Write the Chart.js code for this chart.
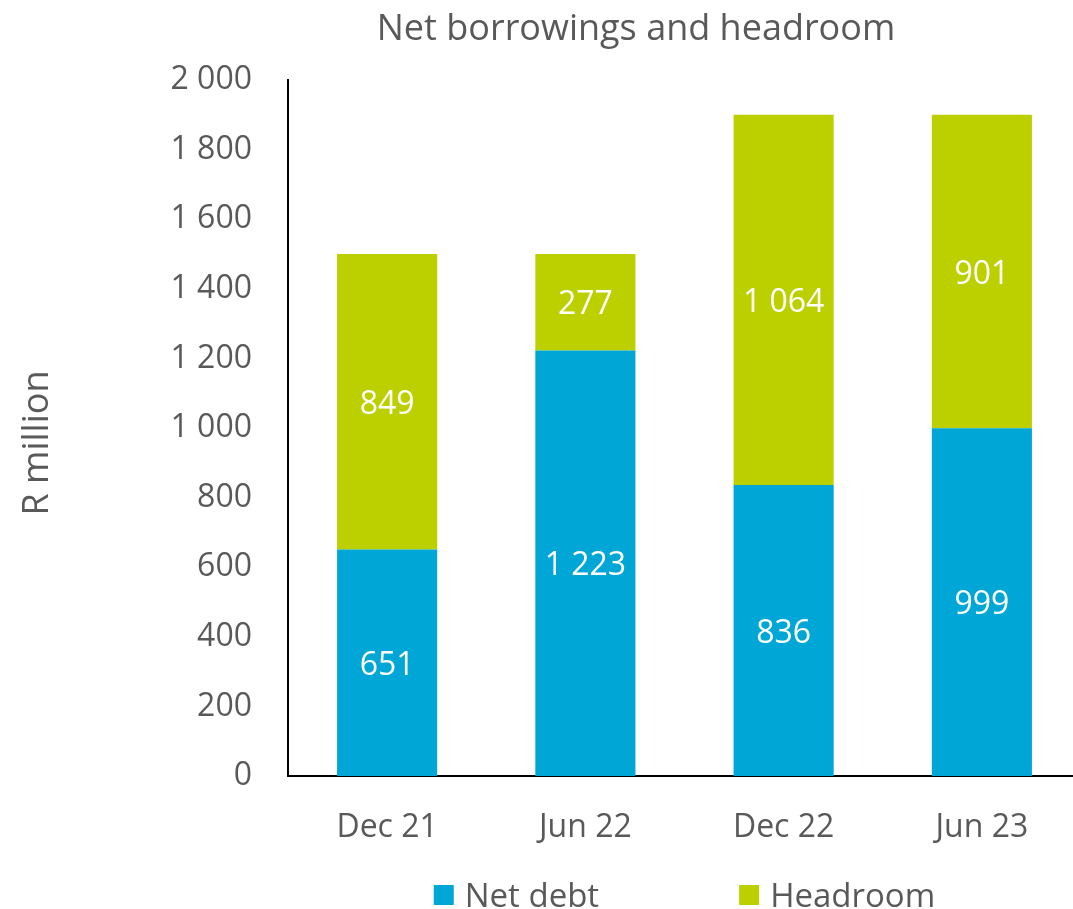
<!DOCTYPE html>
<html><head><meta charset="utf-8">
<script src="https://cdn.jsdelivr.net/npm/chart.js@4"></script>
<style>html,body{margin:0;padding:0;overflow:hidden;background:#fff}#wrap{width:1081px;height:909px}</style>
</head><body><div id="wrap"><canvas id="c" width="1081" height="909"></canvas></div>
<script>
const categories = ['Dec 21', 'Jun 22', 'Dec 22', 'Jun 23'];
const netDebt = [651, 1223, 836, 999];
const headroom = [849, 277, 1064, 901];
const seriesNames = ['Net debt', 'Headroom'];
const yMin = 0, yMax = 2000, yStep = 200;
const titleText = 'Net borrowings and headroom';
const yAxisTitle = 'R million';

const FONT = '"Open Sans", "DejaVu Sans", sans-serif';
const TEXT = '#595959';
const BLUE = '#00A6D6';
const GREEN = '#BCD000';
const fmt = v => String(v).replace(/\B(?=(\d{3})+(?!\d))/g, ' ');

const extras = {
  id: 'extras',
  afterDatasetsDraw(chart) {
    const ctx = chart.ctx;
    ctx.save();
    ctx.fillStyle = '#ffffff';
    ctx.font = '32px ' + FONT;
    ctx.textAlign = 'center';
    ctx.textBaseline = 'middle';
    chart.data.datasets.forEach((ds, di) => {
      const meta = chart.getDatasetMeta(di);
      meta.data.forEach((el, i) => {
        const p = el.getProps(['x', 'y', 'base'], true);
        ctx.fillText(fmt(ds.data[i]), p.x, (p.y + p.base) / 2 + 3);
      });
    });
    ctx.restore();
  },
  afterDraw(chart) {
    const ctx = chart.ctx;
    const ca = chart.chartArea;
    ctx.save();
    ctx.fillStyle = TEXT;
    // title
    ctx.font = '36px ' + FONT;
    ctx.textAlign = 'center';
    ctx.textBaseline = 'middle';
    ctx.fillText(titleText, 636, 30);
    // y axis title
    ctx.save();
    ctx.translate(38, 443);
    ctx.rotate(-Math.PI / 2);
    ctx.fillText(yAxisTitle, 0, 0);
    ctx.restore();
    // legend
    ctx.font = '33px ' + FONT;
    const box = 20, gapText = 11, gapItem = 140;
    const widths = chart.data.datasets.map(d => box + gapText + ctx.measureText(d.label).width);
    const total = widths.reduce((a, b) => a + b, 0) + gapItem * (widths.length - 1);
    let x = (ca.left + ca.right) / 2 - total / 2;
    const cy = 895;
    chart.data.datasets.forEach((d, i) => {
      ctx.fillStyle = d.backgroundColor;
      ctx.fillRect(x, cy - box / 2, box, box);
      ctx.fillStyle = TEXT;
      ctx.textAlign = 'left';
      ctx.fillText(d.label, x + box + gapText, cy + 3);
      x += widths[i] + gapItem;
    });
    ctx.restore();
  }
};

new Chart(document.getElementById('c'), {
  type: 'bar',
  data: {
    labels: categories,
    datasets: [
      { label: seriesNames[0], data: netDebt, backgroundColor: BLUE },
      { label: seriesNames[1], data: headroom, backgroundColor: GREEN }
    ]
  },
  options: {
    responsive: false,
    animation: false,
    devicePixelRatio: 1,
    layout: { padding: { top: 80, left: 0, right: 0, bottom: 0 } },
    categoryPercentage: 1,
    barPercentage: 0.505,
    plugins: { legend: { display: false }, title: { display: false }, tooltip: { enabled: false } },
    scales: {
      x: {
        stacked: true,
        grid: { display: false, drawTicks: false },
        border: { display: true, color: '#000', width: 2 },
        ticks: { color: TEXT, font: { family: FONT, size: 32 }, padding: 33 },
        afterFit: s => { s.height = 133; }
      },
      y: {
        stacked: true,
        min: yMin, max: yMax,
        grid: { display: false, drawTicks: false },
        border: { display: true, color: '#000', width: 2 },
        ticks: { stepSize: yStep, color: TEXT, font: { family: FONT, size: 32 }, padding: 36, callback: v => fmt(v) },
        afterFit: s => { s.width = 288; }
      }
    }
  },
  plugins: [extras]
});
</script>
</body></html>
